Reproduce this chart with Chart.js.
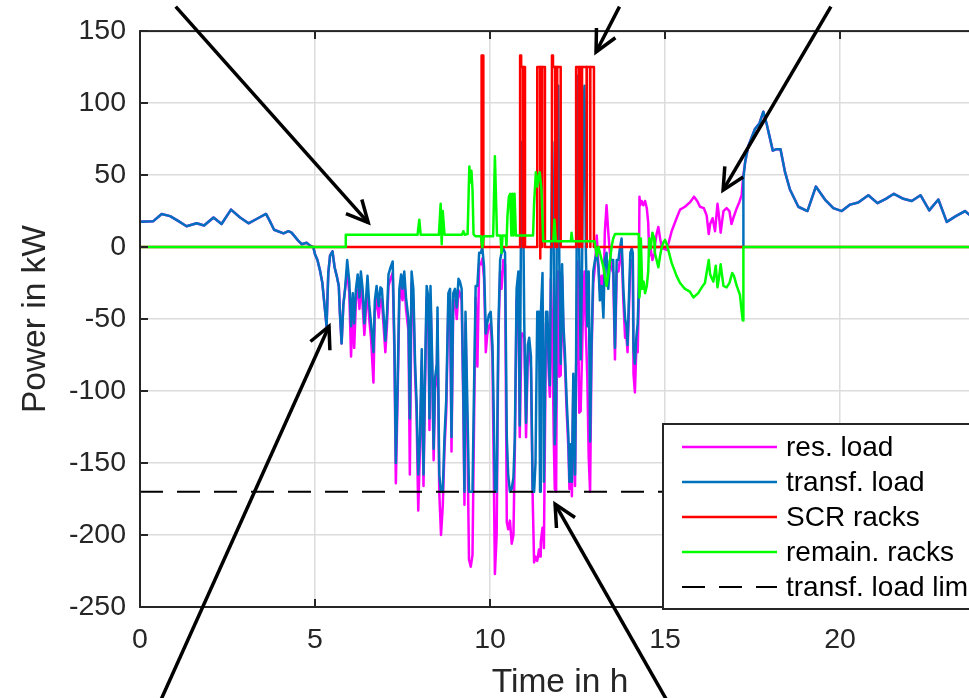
<!DOCTYPE html>
<html>
<head>
<meta charset="utf-8">
<script src="https://cdn.jsdelivr.net/npm/chart.js@4.4.1/dist/chart.umd.min.js"></script>
<style>
  html, body { margin: 0; padding: 0; overflow: hidden; background: #fff; }
  canvas { display: block; }
</style>
</head>
<body>
<canvas id="powerChart" width="990" height="698"></canvas>
<script>
// load profile, time in h
const loadTimes = [
    0, 0.38, 0.62, 0.86, 1.10, 1.33, 1.62, 1.83, 2.10, 2.33,
    2.60, 2.86, 3.10, 3.33, 3.60, 3.71, 3.83, 4.10, 4.24, 4.33,
    4.52, 4.62, 4.76, 4.86, 4.95, 5.00, 5.07, 5.14, 5.21, 5.27,
    5.33, 5.38, 5.43, 5.50, 5.56, 5.62, 5.68, 5.71, 5.76, 5.81,
    5.86, 5.92, 5.98, 6.03, 6.08, 6.12, 6.17, 6.22, 6.27, 6.31,
    6.36, 6.41, 6.46, 6.50, 6.55, 6.60, 6.67, 6.71, 6.76, 6.82,
    6.87, 6.91, 6.96, 7.01, 7.06, 7.10, 7.16, 7.22, 7.27, 7.31,
    7.36, 7.41, 7.46, 7.50, 7.55, 7.60, 7.67, 7.71, 7.76, 7.81,
    7.86, 7.90, 7.95, 8.00, 8.05, 8.10, 8.14, 8.19, 8.24, 8.27,
    8.30, 8.35, 8.39, 8.43, 8.48, 8.50, 8.55, 8.60, 8.65, 8.70,
    8.75, 8.81, 8.86, 8.90, 8.95, 9.00, 9.05, 9.10, 9.14, 9.19,
    9.24, 9.27, 9.30, 9.35, 9.40, 9.45, 9.50, 9.54, 9.59, 9.64,
    9.69, 9.74, 9.78, 9.83, 9.88, 9.92, 9.97, 10.02, 10.07, 10.10,
    10.14, 10.19, 10.24, 10.29, 10.33, 10.38, 10.43, 10.48, 10.52, 10.57,
    10.62, 10.67, 10.71, 10.76, 10.81, 10.85, 10.90, 10.93, 10.98, 11.03,
    11.08, 11.12, 11.17, 11.22, 11.26, 11.30, 11.35, 11.40, 11.43, 11.45,
    11.50, 11.54, 11.60, 11.64, 11.68, 11.71, 11.74, 11.78, 11.82, 11.85,
    11.89, 11.92, 11.95, 11.98, 12.02, 12.06, 12.10, 12.14, 12.19, 12.24,
    12.27, 12.30, 12.34, 12.38, 12.43, 12.46, 12.50, 12.55, 12.59, 12.63,
    12.67, 12.70, 12.74, 12.78, 12.82, 12.86, 12.90, 12.95, 13.00, 13.05,
    13.10, 13.14, 13.19, 13.24, 13.28, 13.33, 13.38, 13.43, 13.48, 13.52,
    13.57, 13.62, 13.67, 13.71, 13.76, 13.81, 13.86, 13.90, 13.93, 13.97,
    14.01, 14.05, 14.08, 14.10, 14.14, 14.18, 14.22, 14.25, 14.27, 14.29,
    14.33, 14.38, 14.43, 14.48, 14.52, 14.55, 14.59, 14.64, 14.69, 14.71,
    14.76, 14.81, 14.86, 14.90, 14.95, 15.05, 15.19, 15.33, 15.43, 15.57,
    15.71, 15.83, 15.92, 16.00, 16.11, 16.19, 16.25, 16.29, 16.36, 16.43,
    16.50, 16.55, 16.59, 16.67, 16.76, 16.84, 16.90, 16.95, 17.05, 17.12,
    17.19, 17.23, 17.24, 17.29, 17.38, 17.57, 17.70, 17.81, 17.90, 18.08,
    18.19, 18.30, 18.43, 18.57, 18.81, 19.07, 19.31, 19.57, 19.81, 20.05,
    20.29, 20.52, 20.81, 21.07, 21.31, 21.54, 21.81, 22.05, 22.30, 22.55,
    22.81, 23.05, 23.31, 23.57, 23.69, 24.00
];

// transformer load in kW
const transfLoad = [
    17.5, 18, 23, 21.5, 18, 14.5, 16.5, 15, 20.5, 16,
    26, 20.5, 16.5, 19.5, 23, 18, 12, 9.5, 11, 10,
    4.5, 2, 3, 1, 0, -5, -9, -16, -25, -40,
    -55, -18, -6, -3, -14, -20, -27, -45, -67, -40,
    -29, -9, -24, -55, -32, -53, -29, -19, -35, -17,
    -29, -53, -35, -20, -40, -53, -73, -37, -27, -41,
    -28, -29, -47, -65, -45, -19, -14, -10, -68, -150,
    -96, -29, -19, -29, -17, -35, -50, -119, -17, -29,
    -81, -106, -158, -132, -71, -158, -94, -27, -35, -119,
    -27, -81, -140, -91, -81, -42, -158, -170, -170, -132,
    -106, -32, -29, -132, -32, -29, -42, -22, -24, -29,
    -106, -170, -45, -106, -170, -170, -170, -104, -27, -27,
    -4, -4, 0, -14, -60, -53, -47, -45, -68, -106,
    -170, -170, -55, -9, -4, -1, -4, -132, -158, -170,
    -168, -160, -132, -29, -17, -124, 73, 70, -55, -122,
    -68, -63, -76, -170, -170, -150, -45, -45, -170, -48,
    -18, -163, -45, -45, -81, -96, -14, 73, -1, -137,
    -106, 104, 112, -9, -81, -12, -55, -73, -106, -132,
    -163, -137, -163, -88, -158, -78, 119, -4, -78, -14,
    99, 112, -4, -55, -17, -135, -68, -17, -9, -4,
    -14, -37, -27, -49, -9, -4, -29, -9, -9, -9,
    -70, -9, -9, -1, 6, -29, -50, -55, -68, -35,
    -4, -1, -4, -71, -81, -63, -53, -29, 0, 0,
    0, 0, 0, 0, 0, 0, 0, 0, 0, 0,
    0, 0, 0, 0, 0, 0, 0, 0, 0, 0,
    0, 0, 0, 0, 0, 0, 0, 0, 0, 0,
    0, 0, 0, 0, 0, 0, 0, 0, 0, 0,
    0, 0, 48, 59, 70, 82, 86, 94, 86, 67,
    68, 68, 52, 40, 28, 25, 42, 33, 27, 25,
    29.5, 31, 36, 30.5, 33.5, 37, 33.5, 32, 36, 25.5,
    33, 17.5, 21.5, 25, 22.5, 20
];

// residual load in kW
const resLoad = [
    17.5, 18, 23, 21.5, 18, 14.5, 16.5, 15, 20.5, 16,
    26, 20.5, 16.5, 19.5, 23, 18, 12, 9.5, 11, 10,
    4.5, 2, 3, 1, 0, -5, -9, -16, -25, -40,
    -55, -18, -6, -3, -14, -20, -27, -45, -67, -40,
    -29, -17, -32, -76, -40, -70, -37, -27, -43, -25,
    -40, -61, -43, -28, -50, -63, -94, -45, -35, -49,
    -36, -37, -55, -73, -53, -27, -22, -18, -76, -164,
    -104, -37, -27, -37, -25, -43, -58, -158, -25, -37,
    -89, -114, -183, -140, -79, -166, -102, -35, -43, -127,
    -35, -89, -148, -99, -89, -50, -170, -200, -180, -140,
    -114, -40, -37, -142, -40, -37, -50, -30, -32, -37,
    -114, -179, -53, -125, -217, -222, -214, -130, -35, -83,
    -12, -12, -8, -22, -73, -61, -55, -53, -76, -140,
    -227, -200, -63, -17, -29, -9, -12, -191, -196, -190,
    -206, -200, -140, -37, -25, -132, -60, -60, -63, -132,
    -76, -71, -84, -175, -219, -215, -218, -210, -215, -205,
    -195, -209, -53, -53, -89, -104, -22, -60, -130, -168,
    -170, -25, -17, -90, -89, -20, -63, -81, -114, -140,
    -168, -145, -173, -96, -166, -86, -10, -115, -114, -75,
    -30, -17, -60, -90, -146, -170, -76, -25, -13, 8,
    -14, -30, -20, -40, 10, 29, 10, -5, -15, -18,
    -78, -17, -17, -9, -2, -37, -63, -63, -73, -43,
    -12, -9, -12, -88, -101, -71, -73, -37, 35, 29,
    32, 29, 32, 27, 17, -6, -1, -9, -5, 1,
    9, 14, 6, 1, -1, -2, 11, 20, 26, 28,
    31, 35, 32, 28, 27, 22, 9, 16, 20, 11,
    30, 20, 10, 25, 27, 25, 16, 20, 27, 31,
    36, 48, 48, 59, 70, 82, 86, 94, 86, 67,
    68, 68, 52, 40, 28, 25, 42, 33, 27, 25,
    29.5, 31, 36, 30.5, 33.5, 37, 33.5, 32, 36, 25.5,
    33, 17.5, 21.5, 25, 22.5, 20
];

// SCR racks (step profile)
const scrTimes = [
    0, 9.76, 9.76, 9.81, 9.81, 10.86, 10.86, 10.89, 10.89, 10.94,
    10.94, 10.95, 10.95, 11.00, 11.00, 11.35, 11.35, 11.43, 11.43, 11.44,
    11.44, 11.48, 11.48, 11.49, 11.49, 11.57, 11.57, 11.77, 11.77, 11.80,
    11.80, 11.86, 11.86, 11.87, 11.87, 11.91, 11.91, 11.92, 11.92, 12.02,
    12.02, 12.46, 12.46, 12.54, 12.54, 12.55, 12.55, 12.62, 12.62, 12.63,
    12.63, 12.76, 12.76, 12.77, 12.77, 12.86, 12.86, 12.87, 12.87, 12.97,
    12.97, 24
];
const scrPower = [
    0, 0, 133, 133, 0, 0, 133, 133, 125, 125,
    0, 0, 125, 125, 0, 0, 125, 125, -8, -8,
    125, 125, 0, 0, 125, 125, 0, 0, 133, 133,
    125, 125, 0, 0, 125, 125, 0, 0, 125, 125,
    0, 0, 125, 125, 0, 0, 125, 125, 0, 0,
    125, 125, 0, 0, 125, 125, 0, 0, 125, 125,
    0, 0
];

// remaining racks
const remTimes = [
    0, 5.88, 5.88, 7.93, 7.98, 8.02, 8.54, 8.59, 8.62, 8.65,
    8.70, 9.20, 9.24, 9.28, 9.36, 9.41, 9.44, 9.47, 9.50, 9.53,
    9.58, 9.74, 9.78, 9.82, 10.09, 10.14, 10.20, 10.30, 10.33, 10.36,
    10.45, 10.47, 10.50, 10.54, 10.58, 10.61, 10.64, 10.67, 10.70, 10.74,
    11.23, 11.26, 11.31, 11.35, 11.38, 11.42, 11.47, 11.52, 11.81, 11.84,
    11.88, 12.31, 12.33, 12.36, 12.99, 13.05, 13.10, 13.14, 13.24, 13.33,
    13.38, 13.43, 13.48, 13.52, 13.57, 14.25, 14.27, 14.29, 14.31, 14.35,
    14.39, 14.43, 14.48, 14.52, 14.55, 14.59, 14.64, 14.69, 14.71, 14.76,
    14.81, 14.86, 14.90, 14.95, 15.00, 15.05, 15.19, 15.33, 15.43, 15.57,
    15.71, 15.81, 15.95, 16.05, 16.14, 16.25, 16.29, 16.38, 16.45, 16.50,
    16.55, 16.59, 16.67, 16.76, 16.84, 16.92, 16.97, 17.05, 17.14, 17.22,
    17.23, 17.24, 24
];
const remPower = [
    0, 0, 8.5, 8.5, 19, 8.5, 8.5, 30, 2, 25,
    8.5, 8.5, 11, 8.5, 9, 56, 45, 53, 40, 9,
    7.5, 7.5, 0, 7.5, 7.5, 63, 8, 8, -4, 8,
    8, 1, 22, 35, 37, 8, 37, 8, 37, 8,
    8, 30, 52, 42, 48, 52, 40, 4, 4, 19,
    4, 4, 10, 4, 4, -6, 0, -4, -14, -27,
    -19, -9, 1, 6, 9, 9, -35, -29, 6, -29,
    -24, -32, -27, -17, 6, -1, 10, 6, -4, -9,
    -14, -6, -1, 3, 5, 2, -11, -20, -25, -29,
    -31, -35, -32, -28, -25, -9, -19, -24, -13, -28,
    -20, -12, -27, -28, -25, -18, -20, -27, -33, -51,
    -51, 0, 0
];

const limitTimes = [0, 24];
const limitPower = [-170, -170];

// annotation arrows, [time, power] of tip and tail
const arrowTips = [[6.52, 17], [13.03, 135.5], [16.66, 39.5], [5.40, -55], [11.86, -178.5]];
const arrowTails = [[1.02, 167], [13.70, 167], [19.74, 167], [0.57, -316], [15.08, -316]];

const toPoints = (ts, vs) => ts.map((t, i) => ({ x: t, y: vs[i] }));

const fontFamily = "'Liberation Sans', Arial, Helvetica, sans-serif";
const axisColor = '#262626';

// box, inward ticks, legend and arrows on top of the data
const overlay = {
    id: 'overlay',
    afterDatasetsDraw(chart) {
        const { ctx, chartArea: a, scales: { x, y } } = chart;
        ctx.save();

        ctx.strokeStyle = axisColor;
        ctx.lineWidth = 2;
        ctx.setLineDash([]);
        ctx.beginPath();
        x.ticks.forEach(t => {
            const px = x.getPixelForValue(t.value);
            ctx.moveTo(px, a.bottom); ctx.lineTo(px, a.bottom - 8);
            ctx.moveTo(px, a.top); ctx.lineTo(px, a.top + 8);
        });
        y.ticks.forEach(t => {
            const py = y.getPixelForValue(t.value);
            ctx.moveTo(a.left, py); ctx.lineTo(a.left + 8, py);
            ctx.moveTo(a.right, py); ctx.lineTo(a.right - 8, py);
        });
        ctx.stroke();
        ctx.strokeRect(a.left, a.top, a.right - a.left, a.bottom - a.top);

        // legend
        const lg = { left: 663, top: 424, width: 345, height: 185, rowTop: 447, rowStep: 35 };
        ctx.fillStyle = '#fff';
        ctx.fillRect(lg.left, lg.top, lg.width, lg.height);
        ctx.strokeStyle = axisColor;
        ctx.lineWidth = 2;
        ctx.strokeRect(lg.left, lg.top, lg.width, lg.height);
        const entries = chart.data.datasets.slice().sort((p, q) => p.legendIndex - q.legendIndex);
        ctx.font = '28px ' + fontFamily;
        ctx.textBaseline = 'middle';
        ctx.textAlign = 'left';
        entries.forEach((ds, i) => {
            const ry = lg.rowTop + i * lg.rowStep;
            ctx.strokeStyle = ds.borderColor;
            ctx.lineWidth = ds.borderWidth;
            ctx.setLineDash(ds.borderDash || []);
            ctx.beginPath();
            ctx.moveTo(682, ry);
            ctx.lineTo(777, ry);
            ctx.stroke();
            ctx.setLineDash([]);
            ctx.fillStyle = '#000';
            ctx.fillText(ds.label, 786, ry + 1);
        });

        // arrows
        ctx.strokeStyle = '#000';
        ctx.lineWidth = 3.5;
        ctx.lineCap = 'butt';
        ctx.lineJoin = 'miter';
        arrowTips.forEach((tip, i) => {
            const tx = x.getPixelForValue(tip[0]), ty = y.getPixelForValue(tip[1]);
            const sx = x.getPixelForValue(arrowTails[i][0]), sy = y.getPixelForValue(arrowTails[i][1]);
            const ang = Math.atan2(sy - ty, sx - tx);
            const head = 24, spread = 0.46;
            ctx.beginPath();
            ctx.moveTo(sx, sy);
            ctx.lineTo(tx, ty);
            ctx.stroke();
            ctx.beginPath();
            ctx.moveTo(tx + head * Math.cos(ang + spread), ty + head * Math.sin(ang + spread));
            ctx.lineTo(tx, ty);
            ctx.lineTo(tx + head * Math.cos(ang - spread), ty + head * Math.sin(ang - spread));
            ctx.stroke();
        });
        ctx.restore();
    }
};

const lineStyle = { pointRadius: 0, borderWidth: 2.5, tension: 0, fill: false, borderJoinStyle: 'round' };

new Chart(document.getElementById('powerChart'), {
    type: 'line',
    data: {
        datasets: [
            Object.assign({ label: 'res. load', data: toPoints(loadTimes, resLoad), borderColor: '#FF00FF', order: 4, legendIndex: 0 }, lineStyle),
            Object.assign({ label: 'transf. load', data: toPoints(loadTimes, transfLoad), borderColor: '#0072BD', order: 3, legendIndex: 1 }, lineStyle),
            Object.assign({ label: 'SCR racks', data: toPoints(scrTimes, scrPower), borderColor: '#FF0000', order: 2, legendIndex: 2 }, lineStyle),
            Object.assign({ label: 'remain. racks', data: toPoints(remTimes, remPower), borderColor: '#00FF00', order: 1, legendIndex: 3 }, lineStyle),
            Object.assign({}, lineStyle, { label: 'transf. load lim', data: toPoints(limitTimes, limitPower), borderColor: '#000000', borderWidth: 2, borderDash: [23, 14], order: 0, legendIndex: 4 })
        ]
    },
    options: {
        responsive: false,
        animation: false,
        layout: { padding: { top: 20, right: 10, bottom: 0, left: 0 } },
        plugins: { legend: { display: false }, tooltip: { enabled: false } },
        scales: {
            x: {
                type: 'linear',
                min: 0,
                max: 24,
                afterFit: s => { s.height = 91; },
                ticks: { stepSize: 5, includeBounds: false, padding: 16, color: axisColor, font: { family: fontFamily, size: 28.5 } },
                grid: { color: '#dcdcdc', lineWidth: 1.5, drawTicks: false },
                border: { display: false },
                title: { display: true, text: 'Time in h', color: axisColor, padding: { top: 0, bottom: 0 }, font: { family: fontFamily, size: 33.5, lineHeight: 0.9 } }
            },
            y: {
                min: -250,
                max: 150,
                afterFit: s => { s.width = 140; },
                ticks: { stepSize: 50, padding: 14, color: axisColor, font: { family: fontFamily, size: 28.5 } },
                grid: { color: '#dcdcdc', lineWidth: 1.5, drawTicks: false },
                border: { display: false },
                title: { display: true, text: 'Power in kW', color: axisColor, padding: { top: 16, bottom: 0 }, font: { family: fontFamily, size: 33.5 } }
            }
        }
    },
    plugins: [overlay]
});
</script>
</body>
</html>
